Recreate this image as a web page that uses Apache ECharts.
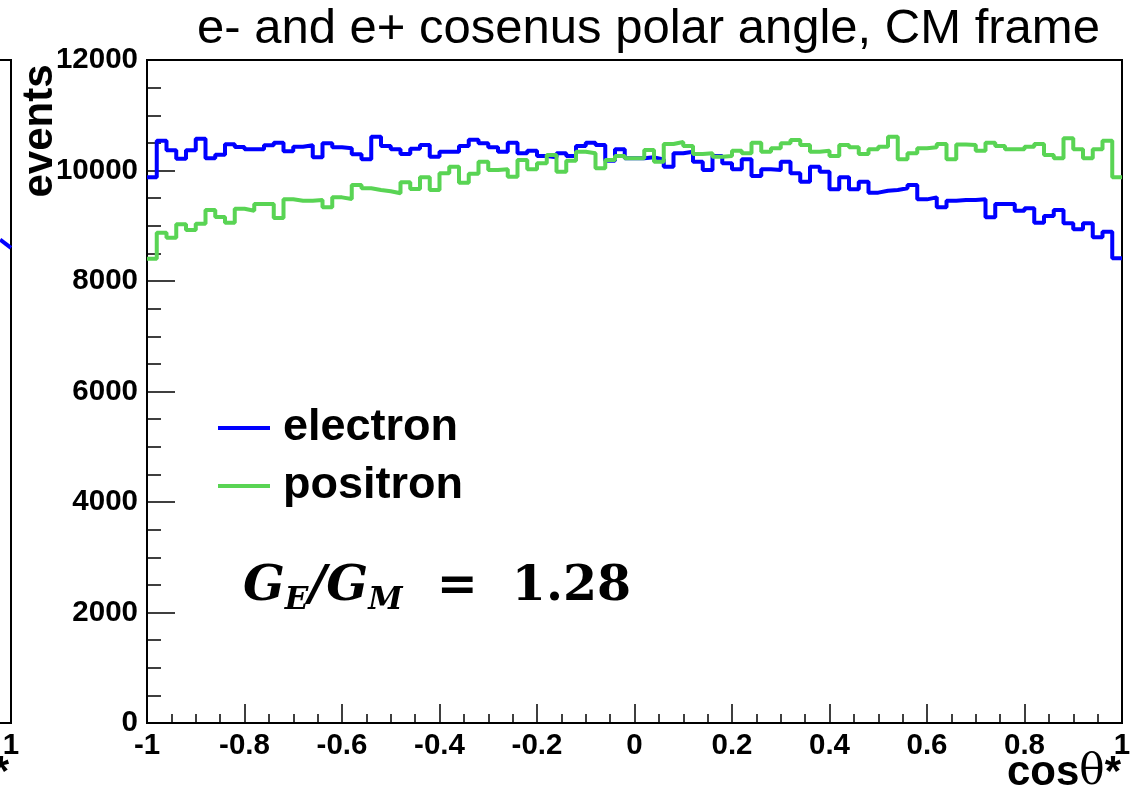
<!DOCTYPE html>
<html>
<head>
<meta charset="utf-8">
<script src="https://cdn.jsdelivr.net/npm/echarts@6/dist/echarts.min.js"></script>
<style>
html, body { margin: 0; padding: 0; background: #fff; }
#chart { width: 1133px; height: 793px; }
</style>
</head>
<body>
<div id="chart"></div>
<script>
// 100 bins of cos(theta*) between -1 and 1
var xMin = -1, xMax = 1, binWidth = 0.02;

var electron = [
    9876, 10540, 10365, 10214, 10365, 10576, 10220, 10287, 10474, 10425,
    10383, 10383, 10456, 10504, 10347, 10431, 10456, 10238, 10492, 10419,
    10401, 10293, 10202, 10612, 10443, 10383, 10299, 10395, 10462, 10250,
    10341, 10341, 10443, 10558, 10492, 10419, 10341, 10504, 10311, 10359,
    10262, 10238, 10311, 10262, 10443, 10504, 10462, 10178, 10383, 10220,
    10220, 10238, 10202, 10069, 10311, 10341, 10160, 10009, 10262, 10130,
    10021, 10202, 9900, 10021, 10009, 10160, 9949, 9798, 10069, 9979,
    9659, 9876, 9659, 9798, 9599, 9635, 9647, 9677, 9738, 9478,
    9514, 9333, 9454, 9466, 9466, 9478, 9152, 9394, 9394, 9273,
    9315, 9056, 9176, 9285, 9044, 8935, 9044, 8790, 8893, 8410
];

var positron = [
    8404, 8875, 8784, 9026, 8923, 9038, 9285, 9158, 9056, 9309,
    9273, 9394, 9394, 9140, 9478, 9454, 9454, 9466, 9333, 9514,
    9484, 9738, 9677, 9647, 9623, 9587, 9786, 9665, 9876, 9647,
    9949, 10069, 9780, 9943, 10160, 10009, 10021, 9888, 10190, 10021,
    10130, 10281, 9979, 10178, 10341, 10311, 10039, 10190, 10262, 10220,
    10220, 10371, 10160, 10480, 10516, 10443, 10299, 10311, 10250, 10262,
    10359, 10311, 10504, 10341, 10401, 10492, 10552, 10462, 10341, 10359,
    10262, 10462, 10419, 10299, 10383, 10431, 10612, 10202, 10311, 10401,
    10419, 10480, 10202, 10470, 10462, 10359, 10504, 10443, 10383, 10383,
    10431, 10480, 10281, 10220, 10582, 10383, 10220, 10383, 10540, 9876
];

// tail of the neighbouring pad, only its last edge is visible
var leftPadX = [0.93, 1.0];
var leftPadY = [8750, 8600];

var yMin = 0, yMax = 12000, yStep = 2000;
var xStep = 0.2;

function histData(vals) {
    var d = vals.map(function (v, i) { return [xMin + i * binWidth, v]; });
    d.push([xMax, vals[vals.length - 1]]);
    return d;
}

var font = 'Liberation Sans';
var labelStyle = { fontFamily: font, fontSize: 29.5, fontWeight: 'bold', color: '#000' };
var xFmt = function (v) { return String(Math.round(v * 10) / 10); };
var yFmt = function (v) { return String(v); };

var chart = echarts.init(document.getElementById('chart'));

var option = {
    animation: false,
    backgroundColor: '#fff',
    title: {
        text: 'e- and e+ cosenus polar angle, CM frame',
        left: 192,
        top: 0,
        textStyle: { fontFamily: font, fontSize: 49, fontWeight: 'normal', color: '#000' }
    },
    legend: {
        data: ['electron', 'positron'],
        orient: 'vertical',
        left: 218,
        top: 405,
        padding: 0,
        icon: 'rect',
        itemWidth: 52,
        itemHeight: 4,
        itemGap: 12,
        textStyle: {
            fontFamily: font, fontSize: 45, fontWeight: 'bold', color: '#000',
            lineHeight: 46, padding: [0, 0, 0, 8]
        }
    },
    grid: [
        { left: 147, right: 11, top: 60, bottom: 70, show: true, borderColor: '#000', borderWidth: 2, outerBoundsMode: 'none' },
        { right: 1122, width: 311, top: 60, bottom: 70, show: true, borderColor: '#000', borderWidth: 2, outerBoundsMode: 'none' }
    ],
    xAxis: [{
        gridIndex: 0,
        type: 'value',
        min: xMin,
        max: xMax,
        interval: xStep,
        axisLine: { onZero: false, lineStyle: { color: '#000', width: 2 } },
        axisTick: { inside: true, length: 19, lineStyle: { color: '#000', width: 1.5 } },
        minorTick: { show: true, splitNumber: 4, length: 9, lineStyle: { color: '#000', width: 1.5 } },
        axisLabel: Object.assign({ margin: 8, formatter: xFmt }, labelStyle),
        splitLine: { show: false }
    }, {
        gridIndex: 1,
        type: 'value',
        min: xMin,
        max: xMax,
        interval: 1,
        axisLine: { onZero: false, lineStyle: { color: '#000', width: 2 } },
        axisTick: { show: false },
        axisLabel: Object.assign({ margin: 8, formatter: xFmt }, labelStyle),
        splitLine: { show: false }
    }],
    yAxis: [{
        gridIndex: 0,
        type: 'value',
        min: yMin,
        max: yMax,
        interval: yStep,
        axisLine: { show: true, onZero: false, lineStyle: { color: '#000', width: 2 } },
        axisTick: { inside: true, length: 28, lineStyle: { color: '#000', width: 1.5 } },
        minorTick: { show: true, splitNumber: 4, length: 14, lineStyle: { color: '#000', width: 1.5 } },
        axisLabel: Object.assign({ margin: 9, formatter: yFmt }, labelStyle),
        splitLine: { show: false }
    }, {
        gridIndex: 1,
        type: 'value',
        min: yMin,
        max: yMax,
        axisLine: { show: true, onZero: false, lineStyle: { color: '#000', width: 2 } },
        axisTick: { show: false },
        axisLabel: { show: false },
        splitLine: { show: false }
    }],
    series: [{
        name: 'electron',
        type: 'line',
        step: 'end',
        xAxisIndex: 0, yAxisIndex: 0,
        showSymbol: false,
        color: '#0000ff',
        lineStyle: { color: '#0000ff', width: 4 },
        data: histData(electron)
    }, {
        name: 'positron',
        type: 'line',
        step: 'end',
        xAxisIndex: 0, yAxisIndex: 0,
        showSymbol: false,
        color: '#59d454',
        lineStyle: { color: '#59d454', width: 4 },
        data: histData(positron)
    }, {
        name: 'left pad',
        type: 'line',
        xAxisIndex: 1, yAxisIndex: 1,
        showSymbol: false,
        lineStyle: { color: '#0000ff', width: 4 },
        data: leftPadX.map(function (x, i) { return [x, leftPadY[i]]; })
    }],
    graphic: [{
        type: 'text',
        x: 40, y: 131,
        rotation: Math.PI / 2,
        style: {
            text: 'events',
            font: 'bold 42px "Liberation Sans"',
            fill: '#000',
            align: 'center',
            verticalAlign: 'middle'
        }
    }, {
        type: 'text',
        x: 1121, y: 773,
        style: {
            text: '{b|cos}{t|θ}{b|*}',
            align: 'right',
            verticalAlign: 'middle',
            rich: {
                b: { font: 'bold 42px "Liberation Sans"', fill: '#000' },
                t: { font: '42px "DejaVu Serif"', fill: '#000' }
            }
        }
    }, {
        type: 'text',
        x: 9, y: 773,
        style: {
            text: '{b|cos}{t|θ}{b|*}',
            align: 'right',
            verticalAlign: 'middle',
            rich: {
                b: { font: 'bold 42px "Liberation Sans"', fill: '#000' },
                t: { font: '42px "DejaVu Serif"', fill: '#000' }
            }
        }
    }, {
        type: 'text',
        x: 243, y: 587,
        style: {
            text: '{g|G}{s|E}{g|/G}{s|M}{r|  =  1.28}',
            verticalAlign: 'middle',
            rich: {
                g: { font: 'italic bold 49px "DejaVu Serif"', fill: '#000', lineHeight: 58, verticalAlign: 'middle' },
                s: { font: 'italic bold 31px "DejaVu Serif"', fill: '#000', lineHeight: 31, verticalAlign: 'bottom' },
                r: { font: 'bold 49px "DejaVu Serif"', fill: '#000', lineHeight: 58, verticalAlign: 'middle' }
            }
        }
    }]
};

chart.setOption(option);
</script>
</body>
</html>
